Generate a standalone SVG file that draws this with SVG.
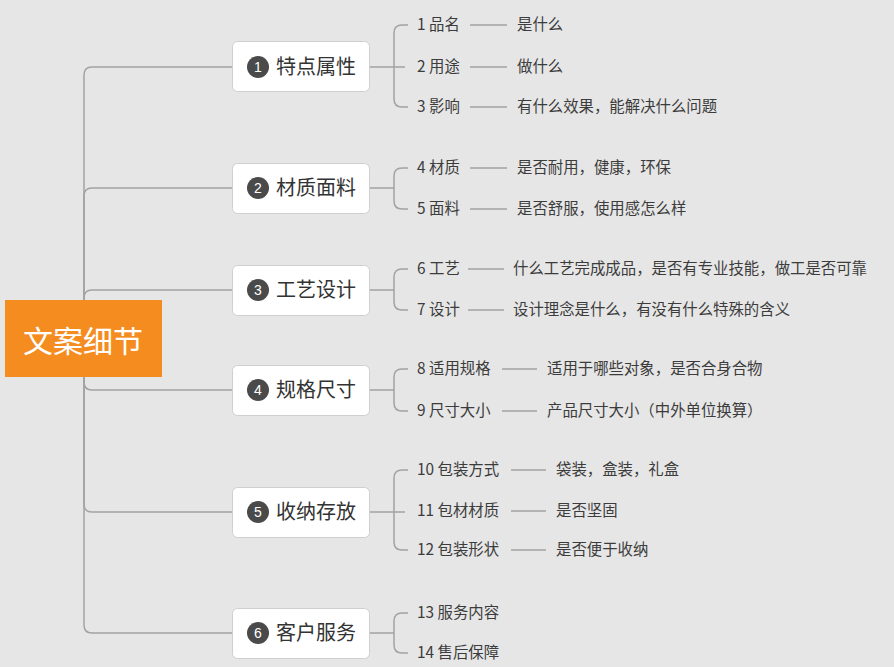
<svg xmlns="http://www.w3.org/2000/svg" width="894" height="667" viewBox="0 0 894 667">
<style>
.c{fill:none;stroke:#a3a3a3;stroke-width:1.5}
.n{fill:#ffffff;stroke:#cfcfcf;stroke-width:1}
.ci{fill:#4a4a4a}
.num{fill:#ffffff;font-family:"Liberation Sans","Noto Sans CJK SC",sans-serif;font-size:14px;text-anchor:middle}
.t{fill:#333333;font-family:"Noto Sans CJK SC",sans-serif;font-size:20px}
.s{fill:#3c3c3c;font-family:"Noto Sans CJK SC",sans-serif;font-size:15.4px}
</style>
<rect x="0" y="0" width="894" height="667" fill="#e6e6e6"/>
<g id="connectors">
<path class="c" d="M84,340 V75 Q84,67 92,67 H233"/>
<path class="c" d="M84,340 V196 Q84,188 92,188 H233"/>
<path class="c" d="M84,340 V298 Q84,290 92,290 H233"/>
<path class="c" d="M84,340 V382 Q84,390 92,390 H233"/>
<path class="c" d="M84,340 V504 Q84,512 92,512 H233"/>
<path class="c" d="M84,340 V625 Q84,633 92,633 H233"/>
<path class="c" d="M370,67 H405 M394,67 V33 Q394,25 402,25 H408 M394,67 V99 Q394,107 402,107 H408"/>
<path class="c" d="M470,25 H507 M470,67 H507 M470,107 H507"/>
<path class="c" d="M370,188 H394 M394,188 V176 Q394,168 402,168 H408 M394,188 V201 Q394,209 402,209 H408"/>
<path class="c" d="M470,168 H507 M470,209 H507"/>
<path class="c" d="M370,290 H394 M394,290 V277 Q394,269 402,269 H408 M394,290 V302 Q394,310 402,310 H408"/>
<path class="c" d="M468,269 H504 M468,310 H504"/>
<path class="c" d="M370,390 H394 M394,390 V377 Q394,369 402,369 H408 M394,390 V403 Q394,411 402,411 H408"/>
<path class="c" d="M502,369 H537 M502,411 H537"/>
<path class="c" d="M370,512 H405 M394,512 V478 Q394,470 402,470 H408 M394,512 V542 Q394,550 402,550 H408"/>
<path class="c" d="M511,470 H546 M511,511 H546 M511,550 H546"/>
<path class="c" d="M370,633 H394 M394,633 V621 Q394,613 402,613 H408 M394,633 V645 Q394,653 402,653 H408"/>
</g>
<g id="root">
<rect x="5" y="300" width="157" height="77" fill="#f58c1f"/>
<text x="83" y="352" fill="#ffffff" font-family="Noto Sans CJK SC,sans-serif" font-size="30" text-anchor="middle">文案细节</text>
</g>
<g id="n1">
<rect class="n" x="232.5" y="41.5" width="137" height="50" rx="5"/>
<circle class="ci" cx="258" cy="67" r="11"/><text class="num" x="258" y="72">1</text>
<text class="t" x="276" y="74">特点属性</text>
</g>
<g id="n2">
<rect class="n" x="232.5" y="163.5" width="137" height="50" rx="5"/>
<circle class="ci" cx="258" cy="188" r="11"/><text class="num" x="258" y="193">2</text>
<text class="t" x="276" y="195">材质面料</text>
</g>
<g id="n3">
<rect class="n" x="232.5" y="265.5" width="137" height="50" rx="5"/>
<circle class="ci" cx="258" cy="290" r="11"/><text class="num" x="258" y="295">3</text>
<text class="t" x="276" y="297">工艺设计</text>
</g>
<g id="n4">
<rect class="n" x="232.5" y="365.5" width="137" height="50" rx="5"/>
<circle class="ci" cx="258" cy="390" r="11"/><text class="num" x="258" y="395">4</text>
<text class="t" x="276" y="397">规格尺寸</text>
</g>
<g id="n5">
<rect class="n" x="232.5" y="487.5" width="137" height="50" rx="5"/>
<circle class="ci" cx="258" cy="512" r="11"/><text class="num" x="258" y="517">5</text>
<text class="t" x="276" y="519">收纳存放</text>
</g>
<g id="n6">
<rect class="n" x="232.5" y="608.5" width="137" height="50" rx="5"/>
<circle class="ci" cx="258" cy="633" r="11"/><text class="num" x="258" y="638">6</text>
<text class="t" x="276" y="640">客户服务</text>
</g>
<g id="items">
<text class="s" x="417" y="30">1 品名</text>
<text class="s" x="517" y="30">是什么</text>
<text class="s" x="417" y="72">2 用途</text>
<text class="s" x="517" y="72">做什么</text>
<text class="s" x="417" y="112">3 影响</text>
<text class="s" x="517" y="112">有什么效果，能解决什么问题</text>
<text class="s" x="417" y="173">4 材质</text>
<text class="s" x="517" y="173">是否耐用，健康，环保</text>
<text class="s" x="417" y="214">5 面料</text>
<text class="s" x="517" y="214">是否舒服，使用感怎么样</text>
<text class="s" x="417" y="274">6 工艺</text>
<text class="s" x="513" y="274">什么工艺完成成品，是否有专业技能，做工是否可靠</text>
<text class="s" x="417" y="315">7 设计</text>
<text class="s" x="513" y="315">设计理念是什么，有没有什么特殊的含义</text>
<text class="s" x="417" y="374">8 适用规格</text>
<text class="s" x="547" y="374">适用于哪些对象，是否合身合物</text>
<text class="s" x="417" y="416">9 尺寸大小</text>
<text class="s" x="547" y="416">产品尺寸大小（中外单位换算）</text>
<text class="s" x="417" y="475">10 包装方式</text>
<text class="s" x="556" y="475">袋装，盒装，礼盒</text>
<text class="s" x="417" y="516">11 包材材质</text>
<text class="s" x="556" y="516">是否坚固</text>
<text class="s" x="417" y="555">12 包装形状</text>
<text class="s" x="556" y="555">是否便于收纳</text>
<text class="s" x="417" y="618">13 服务内容</text>
<text class="s" x="417" y="658">14 售后保障</text>
</g>
</svg>
